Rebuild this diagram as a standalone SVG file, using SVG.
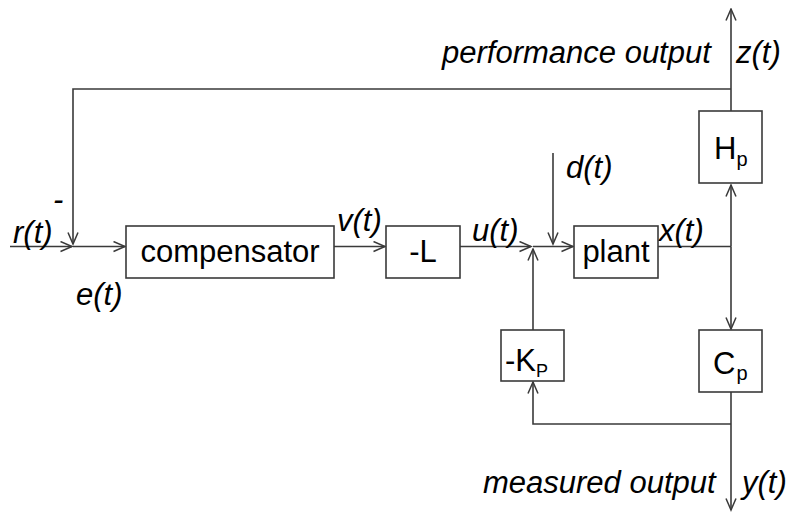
<svg xmlns="http://www.w3.org/2000/svg" width="788" height="512" viewBox="0 0 788 512">
<style>
.box{fill:#fff;stroke:#3a3a3a;stroke-width:1.6}
.ln{fill:none;stroke:#3a3a3a;stroke-width:1.6}
.ar{marker-end:url(#arr)}
text{font-family:"Liberation Sans",Arial,sans-serif;font-size:31px;fill:#000}
.it{font-style:italic}
.mid{text-anchor:middle}
</style>
<defs>
<marker id="arr" markerUnits="userSpaceOnUse" viewBox="0 0 14 12" refX="12.5" refY="6" markerWidth="14" markerHeight="12" orient="auto">
<path d="M1,1 L12.5,6 L1,11" fill="none" stroke="#3a3a3a" stroke-width="1.5"/>
</marker>
</defs>
<rect width="788" height="512" fill="#fff"/>
<g id="connectors">
<path class="ln ar" d="M10,246.5 H72"/>
<path class="ln ar" d="M731,89 H73 V244"/>
<path class="ln ar" d="M73,246.5 H125"/>
<path class="ln ar" d="M334,246.5 H385"/>
<path class="ln ar" d="M460,246.5 H531"/>
<path class="ln ar" d="M533,246.5 H573"/>
<path class="ln ar" d="M553,153 V244"/>
<path class="ln" d="M658,246.5 H731"/>
<path class="ln ar" d="M731,246.5 V185"/>
<path class="ln ar" d="M731,246.5 V329"/>
<path class="ln ar" d="M731,111 V9"/>
<path class="ln ar" d="M731,392 V510"/>
<path class="ln ar" d="M731,424 H533 V382"/>
<path class="ln ar" d="M533,330 V249"/>
<g id="labels">
<text class="it" x="13" y="243">r(t)</text>
<text class="it" x="53" y="210">-</text>
<text class="it" x="76" y="305">e(t)</text>
<text class="it" x="337" y="231">v(t)</text>
<text class="it" x="472" y="241">u(t)</text>
<text class="it" x="566" y="178">d(t)</text>
<text class="it" x="659" y="241">x(t)</text>
<text class="it" x="442" y="63">performance output</text>
<text class="it" x="736" y="63">z(t)</text>
<text class="it" x="483" y="493">measured output</text>
<text class="it" x="742" y="493">y(t)</text>
</g>
</g>
<g id="compensator">
<rect class="box" x="126" y="226" width="208" height="52"/>
<text class="mid" x="230" y="262">compensator</text>
</g>
<g id="gainL">
<rect class="box" x="386" y="226" width="74" height="52"/>
<text class="mid" x="423" y="262">-L</text>
</g>
<g id="plant">
<rect class="box" x="574" y="226" width="84" height="52"/>
<text class="mid" x="616" y="262">plant</text>
</g>
<g id="Hp">
<rect class="box" x="699" y="111" width="63" height="72"/>
<text x="714" y="159">H<tspan font-size="20" dy="7">p</tspan></text>
</g>
<g id="Cp">
<rect class="box" x="699" y="330" width="63" height="62"/>
<text x="713" y="374">C<tspan font-size="20" dx="1" dy="6">p</tspan></text>
</g>
<g id="Kp">
<rect class="box" x="501" y="330" width="63" height="51"/>
<text x="505" y="370.5">-K<tspan font-size="18" dy="6.5">P</tspan></text>
</g>
</svg>
